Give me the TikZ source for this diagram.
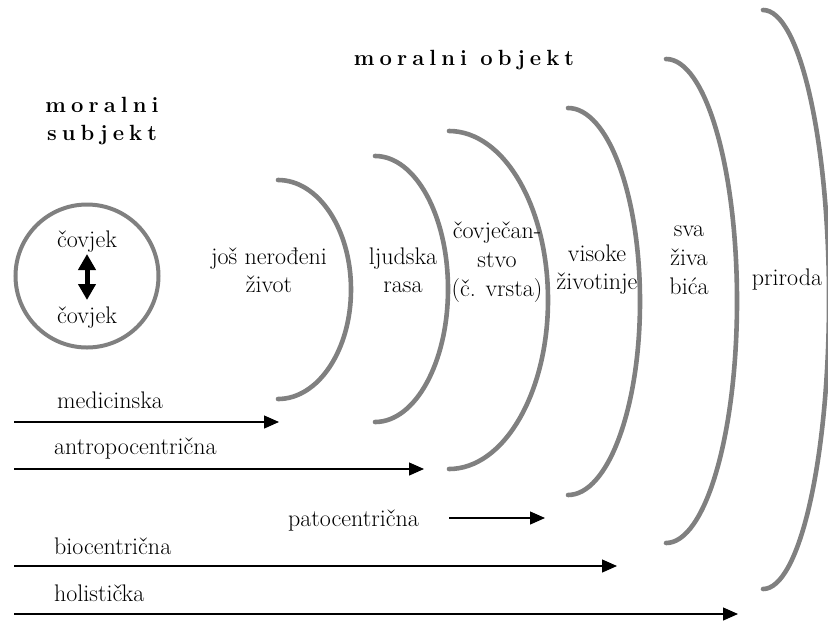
\documentclass[tikz,border=0pt]{standalone}
\usepackage{fontspec}
\newfontfamily\spaced[LetterSpace=23]{Latin Modern Roman}
\usetikzlibrary{arrows.meta}
\definecolor{arcgray}{RGB}{128,128,128}
\begin{document}
\begin{tikzpicture}[x=1pt,y=-1pt,
  arcline/.style={draw=arcgray, line width=4.6pt, line cap=round},
  lbl/.style={font=\fontsize{24}{28}\selectfont, align=center, inner sep=0pt},
  lblthree/.style={font=\fontsize{24}{29}\selectfont, align=center, inner sep=0pt},
  blbl/.style={font=\fontsize{24}{28}\selectfont, anchor=west, inner sep=0pt},
  ttl/.style={font=\spaced\bfseries\fontsize{22}{28}\selectfont, align=center, inner sep=0pt},
  harrow/.style={line width=1.3pt, -{Triangle[length=15pt,width=13pt]}},
  darrow/.style={line width=5pt, {Triangle[length=16pt,width=17pt]}-{Triangle[length=16pt,width=17pt]}},
]
\useasboundingbox (0,0) rectangle (828,622);

% titles
\node[ttl] (mo) at (464,60) {moralni objekt};
\node[ttl] (ms) at (102,121) {moralni\\subjekt};

% moral subject circle
\node[draw=arcgray, line width=4pt, circle, minimum size=143pt, inner sep=0pt] (circ) at (87,276) {};
\node[lbl] (c1) at (87,242) {čovjek};
\node[lbl] (c2) at (87,318) {čovjek};
\coordinate (d1) at (87,254);
\coordinate (d2) at (87,300);
\draw[darrow] (d1) -- (d2);

% arcs
\draw[arcline] (278,180) arc[start angle=90, end angle=-90, x radius=73pt, y radius=109.5pt];
\draw[arcline] (375,156) arc[start angle=90, end angle=-90, x radius=73pt, y radius=133pt];
\draw[arcline] (449,131) arc[start angle=90, end angle=-90, x radius=99pt, y radius=169pt];
\draw[arcline] (568,108) arc[start angle=90, end angle=-90, x radius=72pt, y radius=193.5pt];
\draw[arcline] (666,59) arc[start angle=90, end angle=-90, x radius=71pt, y radius=242pt];
\draw[arcline] (763,10) arc[start angle=90, end angle=-90, x radius=66pt, y radius=289.5pt];

% circle labels
\node[lbl] (n1) at (269,270) {još nerođeni\\život};
\node[lbl] (n2) at (403,270) {ljudska\\rasa};
\node[lblthree] (n3) at (497,262) {čovječan-\\stvo\\(č. vrsta)};
\node[lbl] (n4) at (597,270) {visoke\\životinje};
\node[lblthree] (n5) at (689,260) {sva\\živa\\bića};
\node[lbl] (n6) at (787,280) {priroda};

% bottom labels
\node[blbl] (l1) at (57,400) {medicinska};
\node[blbl] (l2) at (54,449) {antropocentrična};
\node[blbl] (l3) at (288,521) {patocentrična};
\node[blbl] (l4) at (54,546) {biocentrična};
\node[blbl] (l5) at (54,593) {holistička};

% arrows
\coordinate (s1) at (14,422); \coordinate (e1) at (279,422);
\coordinate (s2) at (14,469); \coordinate (e2) at (424,469);
\coordinate (s3) at (449,518); \coordinate (e3) at (545,518);
\coordinate (s4) at (14,566); \coordinate (e4) at (617,566);
\coordinate (s5) at (14,614); \coordinate (e5) at (738,614);
\draw[harrow] (s1) -- (e1);
\draw[harrow] (s2) -- (e2);
\draw[harrow] (s3) -- (e3);
\draw[harrow] (s4) -- (e4);
\draw[harrow] (s5) -- (e5);
\end{tikzpicture}
\end{document}
